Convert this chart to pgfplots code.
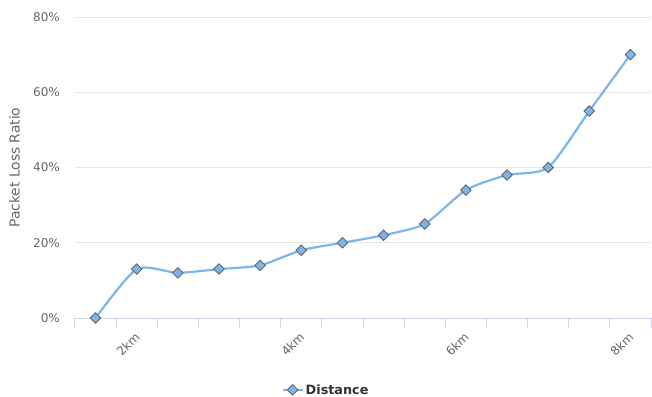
\documentclass[border=0pt]{standalone}
\usepackage{pgfplots}
\pgfplotsset{compat=1.18}
\usepackage{fontspec}
\setmainfont{DejaVu Sans}
\definecolor{hcblue}{HTML}{7CB5EC}
\definecolor{gridc}{HTML}{E6E6E6}
\definecolor{axisc}{HTML}{CCD6EB}
\definecolor{labc}{HTML}{666666}
\definecolor{legc}{HTML}{333333}
\begin{document}
\begin{tikzpicture}
\useasboundingbox (-75bp,-79bp) rectangle (577bp,318bp);
\begin{axis}[
  at={(0,0)}, anchor=south west,
  scale only axis, width=576bp, height=301bp,
  xmin=-0.5, xmax=13.5, ymin=0, ymax=80,
  clip=false,
  axis lines*=left,
  x axis line style={draw=axisc, line width=1bp, -},
  y axis line style={draw=none},
  xtick pos=bottom, ytick pos=left,
  tick align=outside,
  xtick={1,5,9,13},
  xticklabels={2km,4km,6km,8km},
  minor xtick={-0.5,0.5,...,13.5},
  major tick length=0pt,
  minor tick length=10bp,
  minor x tick style={draw=axisc, line width=1bp},
  ytick={0,20,40,60,80},
  yticklabels={0\%,20\%,40\%,60\%,80\%},
  ytick style={draw=none},
  ymajorgrids,
  grid style={draw=gridc, line width=1bp},
  yticklabel style={font=\fontsize{12bp}{14bp}\selectfont, text=labc, inner sep=0pt, anchor=east, xshift=-15bp},
  xticklabel style={font=\fontsize{12bp}{14bp}\selectfont, text=labc, inner sep=0pt, xshift=4bp, yshift=-20bp, rotate=45, anchor=base east},
  ylabel={Packet Loss Ratio},
  ylabel style={at={(axis description cs:-0.105,0.5)}, anchor=center, font=\fontsize{13.8bp}{16bp}\selectfont, text=labc},
  legend style={at={(axis description cs:0.4358,-0.239)}, anchor=center, draw=none, fill=none, font=\bfseries\fontsize{12.8bp}{15bp}\selectfont, text=legc, inner sep=0pt},
  legend image code/.code={\draw[mark repeat=2,mark phase=2,#1] plot coordinates {(0bp,0bp) (10bp,0bp) (20bp,0bp)};},
]
\addplot[hcblue, line width=2.2bp, smooth, tension=0.4, mark=square*, mark size=3.7bp,
  mark options={rotate=45, fill=hcblue, draw=labc, line width=0.9bp, solid}]
  coordinates {(0,0) (1,13) (2,12) (3,13) (4,14) (5,18) (6,20) (7,22) (8,25) (9,34) (10,38) (11,40) (12,55) (13,70)};
\addlegendentry{Distance}
\end{axis}
\end{tikzpicture}
\end{document}
